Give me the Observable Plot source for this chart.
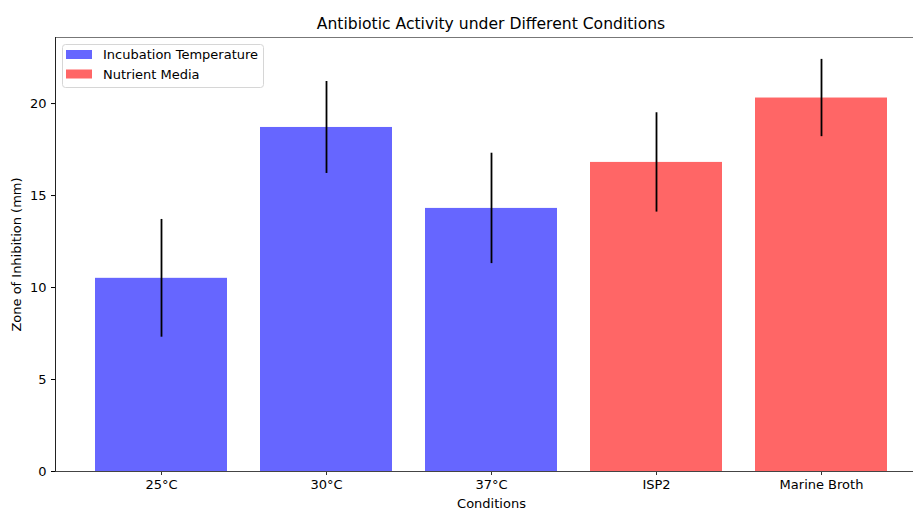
<!DOCTYPE html>
<html>
<head>
<meta charset="utf-8">
<script src="https://cdn.jsdelivr.net/npm/d3@7"></script>
<script src="https://cdn.jsdelivr.net/npm/@observablehq/plot@0.6"></script>
<style>
  html, body { margin: 0; padding: 0; background: #fff; }
  #chart svg { display: block; }
</style>
</head>
<body>
<div id="chart"></div>
<script>
const conditions = ["25°C", "30°C", "37°C", "ISP2", "Marine Broth"];
const groups = ["Incubation Temperature", "Incubation Temperature", "Incubation Temperature", "Nutrient Media", "Nutrient Media"];
const means = [10.5, 18.7, 14.3, 16.8, 20.3];
const errors = [3.2, 2.5, 3.0, 2.7, 2.1];
const yTicks = [0, 5, 10, 15, 20];
const legendLabels = ["Incubation Temperature", "Nutrient Media"];
const legendColors = ["#6666ff", "#ff6666"];

const data = conditions.map((c, i) => ({
  condition: c, group: groups[i], mean: means[i], err: errors[i]
}));

const W = 913, H = 510;
const mL = 55, mT = 37, mB = 39;
const yTop = 23.59;
const font = "DejaVu Sans, sans-serif";
const fs = 13;

const plot = Plot.plot({
  width: W,
  height: H,
  marginLeft: mL,
  marginRight: 0,
  marginTop: mT,
  marginBottom: mB,
  style: { fontFamily: font, fontSize: fs + "px", color: "#000", background: "#fff" },
  x: { domain: conditions, range: [mL, 926], paddingInner: 0.2, paddingOuter: 0.235, label: null },
  y: { domain: [0, yTop], label: null },
  color: { domain: legendLabels, range: legendColors },
  marks: [
    Plot.barY(data, { x: "condition", y: "mean", fill: "group" }),
    Plot.ruleX(data, { x: "condition", y1: d => d.mean - d.err, y2: d => d.mean + d.err, stroke: "#000", strokeWidth: 1.8 }),
    Plot.axisX({ tickSize: 4, tickPadding: 4, fontSize: fs, label: null, stroke: "#333" }),
    Plot.axisY({ ticks: yTicks, tickSize: 4, tickPadding: 5, fontSize: fs, label: null, tickFormat: d => String(d) }),
    Plot.ruleY([0], { stroke: "#444", strokeWidth: 1 }),
    Plot.ruleY([yTop], { stroke: "#777", strokeWidth: 1 }),
    Plot.text(["Antibiotic Activity under Different Conditions"], { frameAnchor: "top", dx: 6.5, dy: -14, lineAnchor: "middle", fontSize: 15.6, fill: "#000" }),
    Plot.text(["Conditions"], { frameAnchor: "bottom", dx: 7, dy: 32.5, lineAnchor: "middle", fontSize: fs, fill: "#000" }),
    Plot.text(["Zone of Inhibition (mm)"], { frameAnchor: "left", dx: -39, rotate: -90, lineAnchor: "middle", textAnchor: "middle", fontSize: fs, fill: "#000" })
  ]
});

document.getElementById("chart").appendChild(plot);

const svg = d3.select(plot);
// left spine
svg.append("line").attr("x1", mL + 0.5).attr("x2", mL + 0.5).attr("y1", mT).attr("y2", H - mB + 0.5)
  .attr("stroke", "#222").attr("stroke-width", 1);

// legend
const lg = svg.append("g").attr("font-family", font).attr("font-size", fs + "px").attr("text-anchor", "start");
lg.append("rect").attr("x", 62.5).attr("y", 44.5).attr("width", 201).attr("height", 43).attr("rx", 3)
  .attr("fill", "#fff").attr("fill-opacity", 0.8).attr("stroke", "#d6d6d6").attr("stroke-width", 1);
legendLabels.forEach((lab, i) => {
  const y0 = 50 + i * 19.5;
  lg.append("rect").attr("x", 66).attr("y", y0).attr("width", 26).attr("height", 9).attr("fill", legendColors[i]);
  lg.append("text").attr("x", 103).attr("y", y0 + 4.5).attr("dy", "0.35em").attr("text-anchor", "start").attr("fill", "#000").text(lab);
});
</script>
</body>
</html>
